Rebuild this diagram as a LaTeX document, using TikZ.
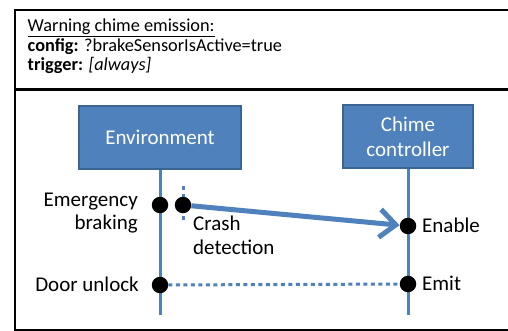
\documentclass[tikz,border=0pt]{standalone}
\usepackage{fontspec}
\setmainfont{Carlito}
\usetikzlibrary{arrows.meta}
\definecolor{lifeblue}{HTML}{4F81BD}
\definecolor{boxedge}{HTML}{3A6593}
\begin{document}
\begin{tikzpicture}[x=1pt,y=-1pt,
  hdr/.style={anchor=base west,inner sep=0pt,font=\fontsize{18.3}{19.3}\selectfont},
  actor/.style={draw=boxedge,line width=1.5pt,fill=lifeblue,text=white,
    minimum height=63pt,inner sep=0pt,align=center,
    font=\fontsize{21}{25}\selectfont},
  lifeline/.style={draw=lifeblue,line width=3pt},
  evt/.style={circle,fill=black,minimum size=16.5pt,inner sep=0pt},
  lbl/.style={inner sep=0pt,font=\fontsize{21}{23.5}\selectfont},
  msg/.style={draw=lifeblue,line width=5pt,-{Straight Barb[length=16pt,width=28pt]}},
  dotline/.style={draw=lifeblue,line width=3pt,dash pattern=on 4pt off 3.5pt}]
\useasboundingbox (0,0) rectangle (508,331);

% outer frame and header separator
\begin{scope}
  \clip (0,0) rectangle (508,331);
  \draw[line width=2pt] (15,10) rectangle (520,329.5);
  \draw[line width=3pt] (15,90) -- (520,90);
\end{scope}

% header
\node[hdr] (title) at (27.5,32) {\underline{Warning chime emission:}};
\node[hdr] (config) at (27.5,51.5) {\textbf{config:} ?brakeSensorIsActive=true};
\node[hdr] (trigger) at (27.5,70.5) {\textbf{trigger:} \textit{[always]}};

% actors
\node[actor,minimum width=162pt] (env) at (160,137.5) {Environment};
\node[actor,minimum width=130pt] (chime) at (408,136.5) {Chime\\controller};

\coordinate (envEnd) at (160,315);
\coordinate (chimeEnd) at (408,315);
\draw[lifeline] (env.south) -- (envEnd);
\draw[lifeline] (chime.south) -- (chimeEnd);

% events
\coordinate (cdTop) at (183,186);
\coordinate (cdBot) at (183,222);
\draw[dotline] (cdTop) -- (cdBot);

\node[evt] (eb) at (160,205) {};
\node[evt] (cd) at (183,205) {};
\node[evt] (en) at (408,226) {};
\node[evt] (du) at (160,285) {};
\node[evt] (em) at (408,284) {};

\draw[msg] (cd) -- (en);
\draw[dotline] (du) -- (em);

% labels (base anchor sits on the last line)
\node[lbl,anchor=base east,align=right] (ebl) at (138,229.5) {Emergency\\braking};
\node[lbl,anchor=base west,align=left] (cdl) at (193,254) {Crash\\detection};
\node[lbl,anchor=base east] (dul) at (139,291.5) {Door unlock};
\node[lbl,anchor=base west] (enl) at (422,232.5) {Enable};
\node[lbl,anchor=base west] (eml) at (422,290.5) {Emit};
\end{tikzpicture}
\end{document}
